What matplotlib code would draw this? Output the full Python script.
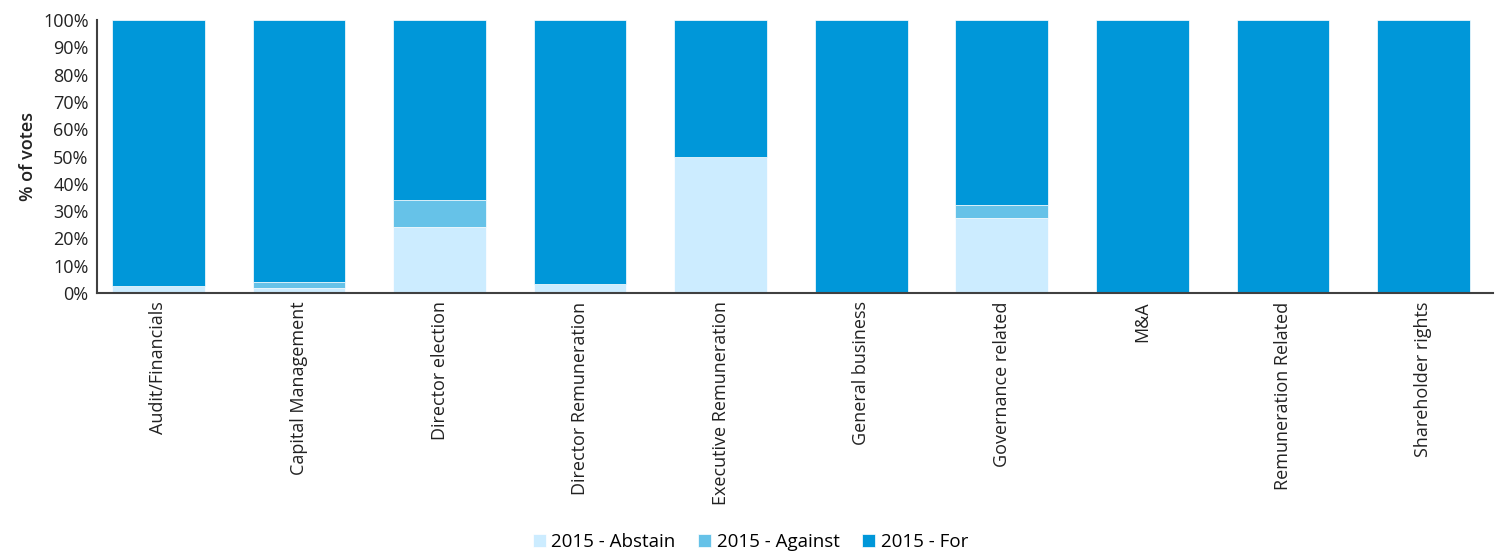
import matplotlib.pyplot as plt
import numpy as np

categories = ['Audit/Financials', 'Capital Management', 'Director election',
              'Director Remuneration', 'Executive Remuneration', 'General business',
              'Governance related', 'M&A', 'Remuneration Related', 'Shareholder rights']
abstain = [2.6, 1.7, 24.2, 3.5, 50.0, 0.0, 27.4, 0.0, 0.0, 0.0]
against = [0.0, 2.3, 9.9, 0.0, 0.0, 0.0, 4.8, 0.0, 0.0, 0.0]
for_votes = [100 - a - b for a, b in zip(abstain, against)]

plt.rcParams['font.family'] = ['Open Sans', 'DejaVu Sans']

fig = plt.figure(figsize=(15.01, 5.54), dpi=100)
ax = fig.add_axes([0.0646, 0.471, 0.930, 0.493])

x = np.arange(len(categories))
w = 0.66
ax.bar(x, abstain, w, color='#CCECFF', edgecolor='white', linewidth=0.5, label='2015 - Abstain')
ax.bar(x, against, w, bottom=abstain, color='#66C2E8', edgecolor='white', linewidth=0.5,
       label='2015 - Against')
bottom2 = [a + b for a, b in zip(abstain, against)]
ax.bar(x, for_votes, w, bottom=bottom2, color='#0097D9', edgecolor='white', linewidth=0.5,
       label='2015 - For')

ax.set_xlim(-0.437, 9.494)
ax.set_ylim(0, 100)
ax.set_yticks(range(0, 101, 10))
ax.set_yticklabels([f'{v}%' for v in range(0, 101, 10)], fontsize=13, color='#222222')
ax.set_xticks(x)
ax.set_xticklabels(categories, rotation=90, fontsize=13, color='#222222')
ax.tick_params(length=0, pad=6)
ax.set_ylabel('% of votes', fontsize=13, color='#222222', labelpad=4, fontweight='semibold')

for s in ['top', 'right']:
    ax.spines[s].set_visible(False)
for s in ['left', 'bottom']:
    ax.spines[s].set_color('#404040')
    ax.spines[s].set_linewidth(1.5)

fig.legend(loc='lower center', bbox_to_anchor=(0.5, -0.025), ncol=3, frameon=False,
           fontsize=13.5, handlelength=0.7, handleheight=0.7, handletextpad=0.3,
           columnspacing=1.2)

fig.savefig('out.png', dpi=100)
